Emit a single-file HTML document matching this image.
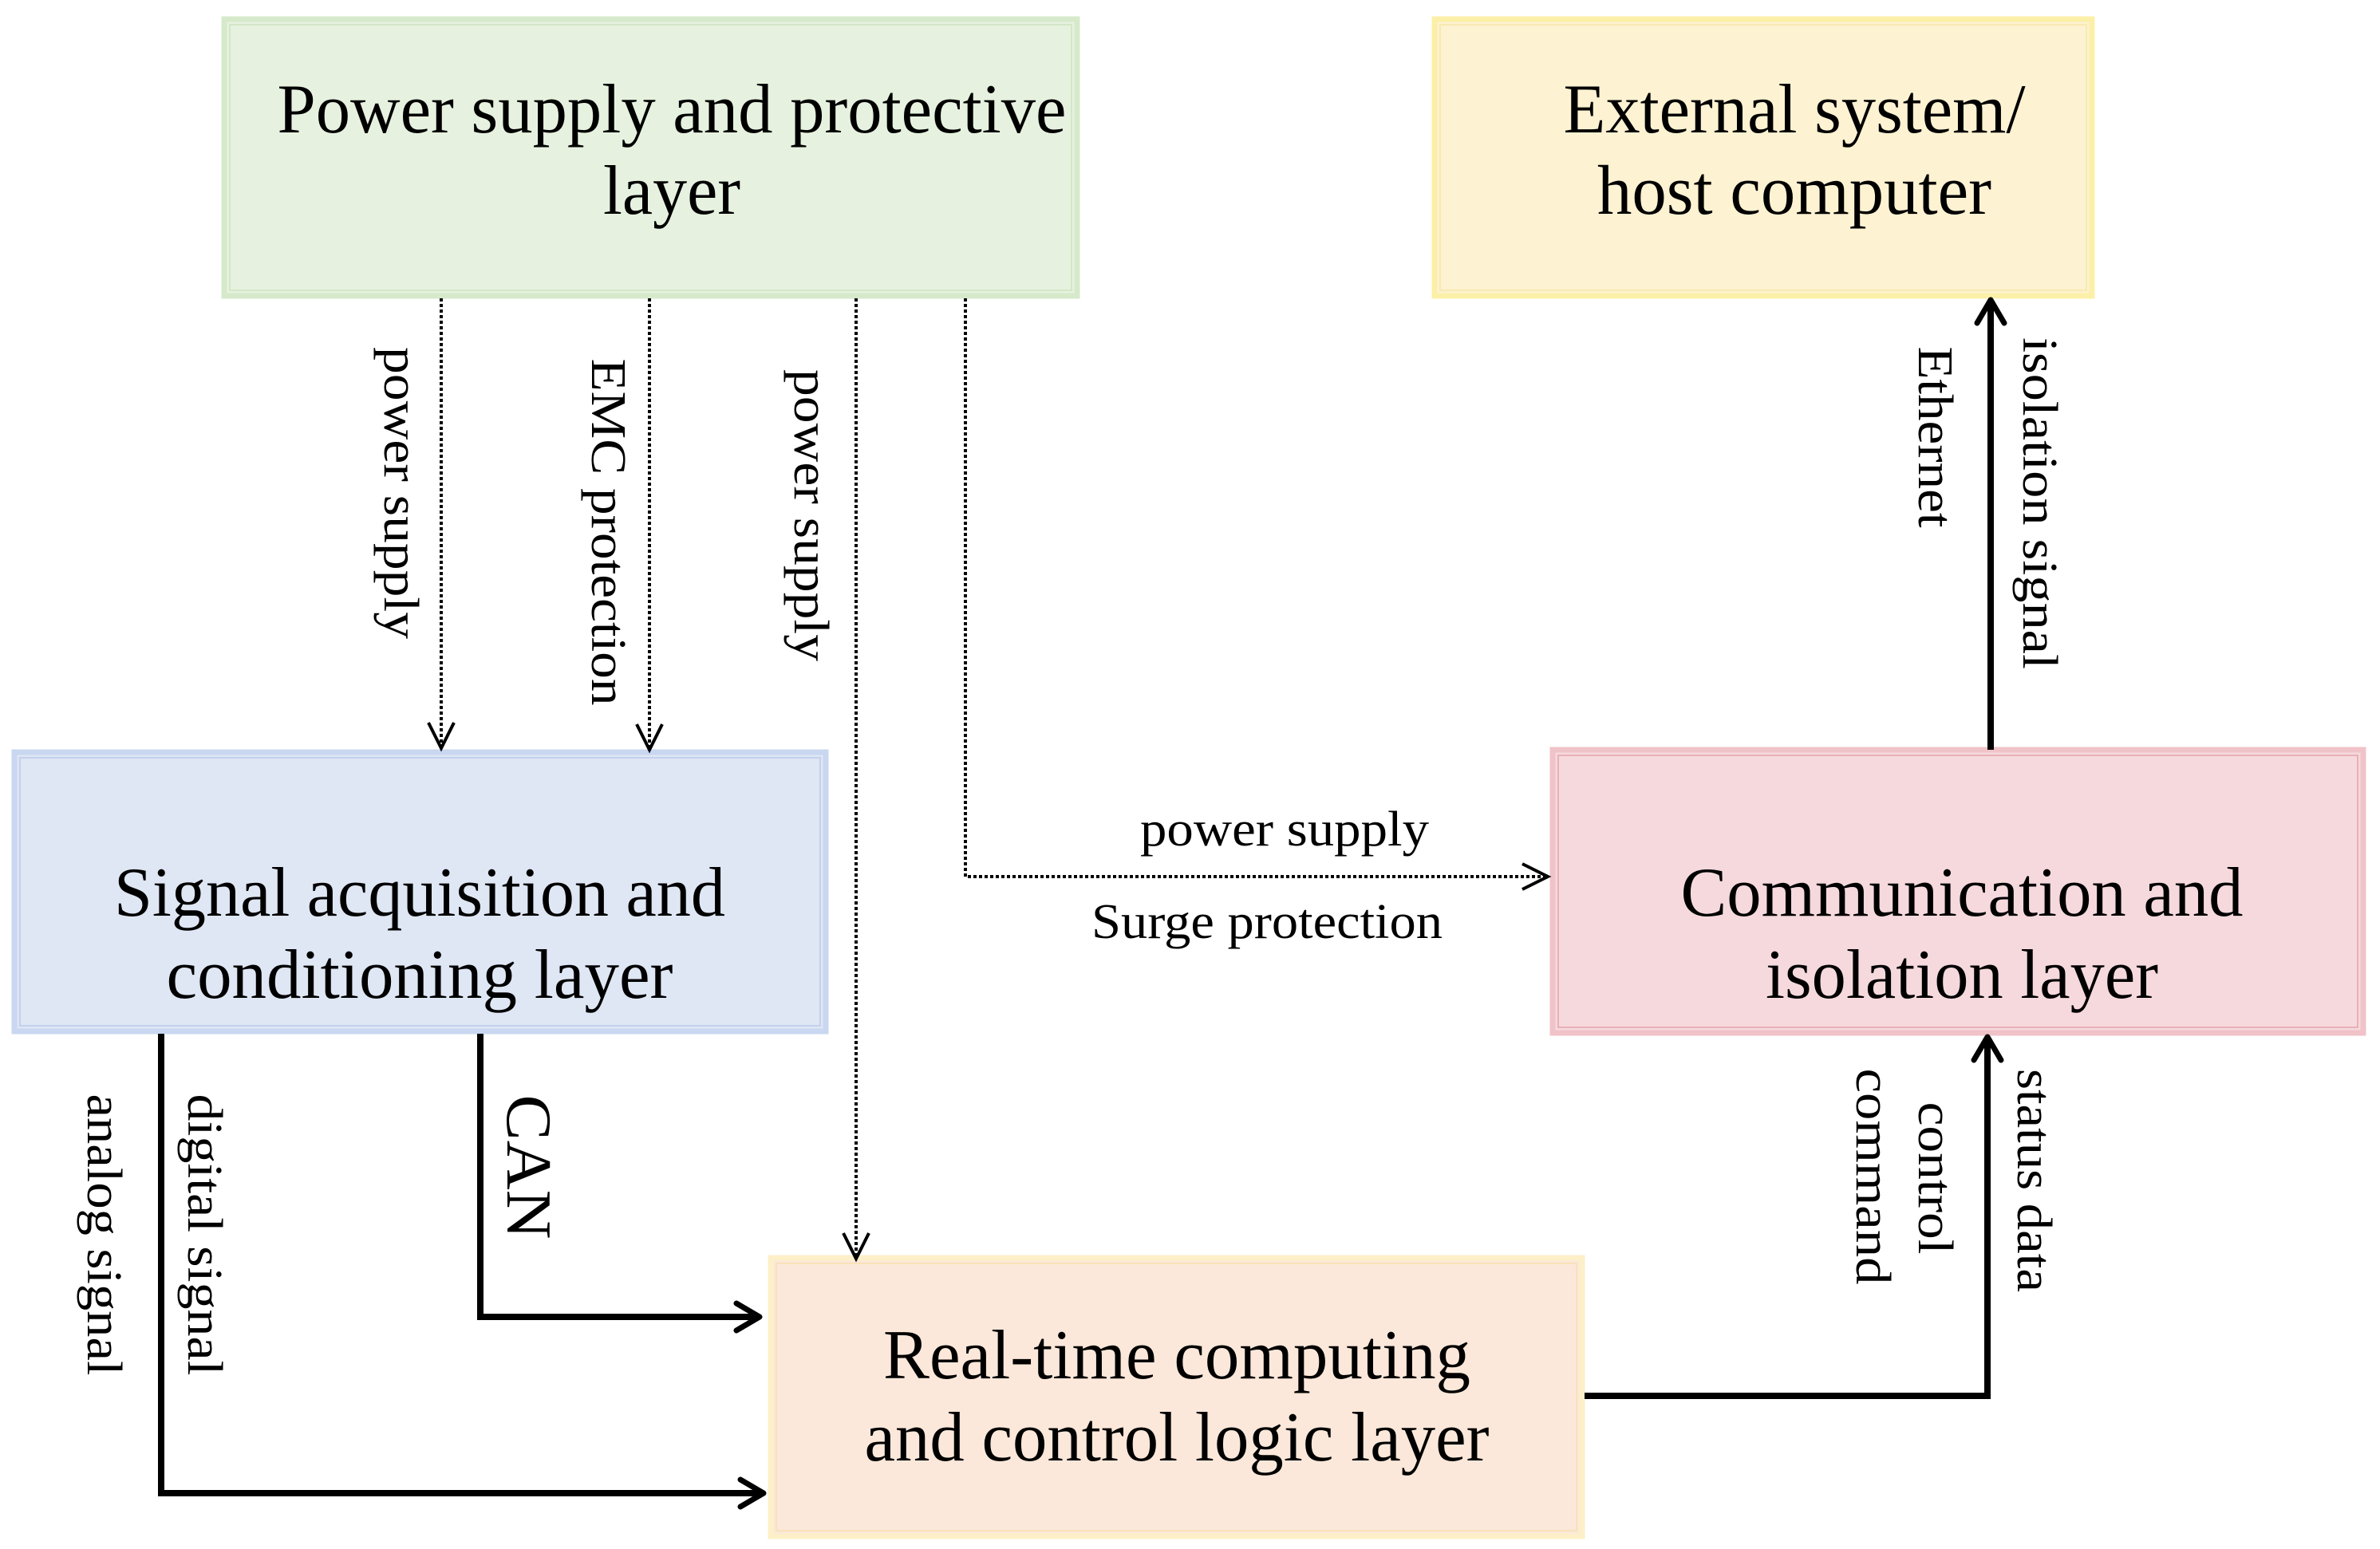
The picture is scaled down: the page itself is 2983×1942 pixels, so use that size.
<!DOCTYPE html>
<html><head><meta charset="utf-8"><style>
html,body{margin:0;padding:0;background:#fff;}
svg{display:block;}
text{font-family:"Liberation Serif",serif;fill:#000;}
</style></head><body>
<svg width="2983" height="1942" viewBox="0 0 2983 1942" xmlns="http://www.w3.org/2000/svg">
<!-- boxes -->
<rect x="281" y="24" width="1069" height="347" fill="#e6f2df" stroke="#d6eacb" stroke-width="7"/>
<rect x="288" y="31" width="1055" height="333" fill="none" stroke="#d3e7c6" stroke-width="2"/>
<rect x="1798" y="24" width="824" height="347" fill="#fdf2d2" stroke="#fcf0a8" stroke-width="7"/>
<rect x="1805" y="31" width="810" height="333" fill="none" stroke="#f8eab0" stroke-width="2"/>
<rect x="18" y="943" width="1017" height="350" fill="#dfe6f4" stroke="#c9d7f0" stroke-width="7"/>
<rect x="25" y="950" width="1003" height="336" fill="none" stroke="#c2d1ec" stroke-width="2"/>
<rect x="1946" y="940" width="1016" height="355" fill="#f5d9dd" stroke="#f0c3c8" stroke-width="7"/>
<rect x="1953" y="947" width="1002" height="341" fill="none" stroke="#e8b0b6" stroke-width="2"/>
<rect x="966" y="1577" width="1017" height="349" fill="#fbe8da" stroke="#fdf0c8" stroke-width="7"/>
<rect x="973" y="1584" width="1003" height="335" fill="none" stroke="#f9e2b8" stroke-width="2"/>

<!-- box texts -->
<g font-size="88" text-anchor="middle">
<text x="842" y="166" textLength="989" lengthAdjust="spacingAndGlyphs">Power supply and protective</text>
<text x="842" y="268" textLength="172" lengthAdjust="spacingAndGlyphs">layer</text>
<text x="2249" y="166" textLength="579" lengthAdjust="spacingAndGlyphs">External system/</text>
<text x="2249" y="268" textLength="494" lengthAdjust="spacingAndGlyphs">host computer</text>
<text x="526" y="1148" textLength="766" lengthAdjust="spacingAndGlyphs">Signal acquisition and</text>
<text x="526" y="1251" textLength="635" lengthAdjust="spacingAndGlyphs">conditioning layer</text>
<text x="2459" y="1148" textLength="705" lengthAdjust="spacingAndGlyphs">Communication and</text>
<text x="2459" y="1251" textLength="492" lengthAdjust="spacingAndGlyphs">isolation layer</text>
<text x="1475" y="1728" textLength="736" lengthAdjust="spacingAndGlyphs">Real-time computing</text>
<text x="1475" y="1831" textLength="783" lengthAdjust="spacingAndGlyphs">and control logic layer</text>
</g>

<!-- dotted connectors -->
<g fill="none" stroke="#000" stroke-width="4" stroke-dasharray="4 3">
<path d="M553 374 V936"/>
<path d="M814 374 V938"/>
<path d="M1073 374 V1576"/>
<path d="M1210 374 V1099 H1938"/>
</g>
<g fill="none" stroke="#000" stroke-width="4">
<path d="M537 906 L553 938 L569 906"/>
<path d="M798 908 L814 940 L830 908"/>
<path d="M1057 1546 L1073 1578 L1089 1546"/>
<path d="M1908 1083 L1940 1099 L1908 1115"/>
</g>

<!-- solid connectors -->
<g fill="none" stroke="#000" stroke-width="8">
<path d="M202 1296 V1872 H955"/>
<path d="M602 1296 V1651 H950"/>
<path d="M1986 1750 H2491 V1302"/>
<path d="M2495 940 V380"/>
</g>
<g fill="none" stroke="#000" stroke-width="7" stroke-linecap="round" stroke-linejoin="round">
<path d="M928 1855 L957 1872 L928 1889"/>
<path d="M923 1634 L952 1651 L923 1668"/>
<path d="M2474 1329 L2491 1300 L2508 1329"/>
<path d="M2478 405 L2495 376 L2512 405"/>
</g>

<!-- labels -->
<g font-size="62" text-anchor="middle">
<text transform="translate(482,618) rotate(90)" textLength="366" lengthAdjust="spacingAndGlyphs">power supply</text>
<text transform="translate(742,667) rotate(90)" textLength="435" lengthAdjust="spacingAndGlyphs">EMC protection</text>
<text transform="translate(996,646) rotate(90)" textLength="366" lengthAdjust="spacingAndGlyphs">power supply</text>
<text x="1610" y="1060" textLength="362" lengthAdjust="spacingAndGlyphs">power supply</text>
<text x="1588" y="1176" textLength="440" lengthAdjust="spacingAndGlyphs">Surge protection</text>
<text transform="translate(110,1548) rotate(90)" textLength="353" lengthAdjust="spacingAndGlyphs">analog signal</text>
<text transform="translate(236,1548) rotate(90)" textLength="353" lengthAdjust="spacingAndGlyphs">digital signal</text>
<text transform="translate(2529,1480) rotate(90)" textLength="280" lengthAdjust="spacingAndGlyphs">status data</text>
<text transform="translate(2405,1477) rotate(90)" textLength="191" lengthAdjust="spacingAndGlyphs">control</text>
<text transform="translate(2327,1475) rotate(90)" textLength="271" lengthAdjust="spacingAndGlyphs">command</text>
<text transform="translate(2536,631) rotate(90)" textLength="416" lengthAdjust="spacingAndGlyphs">isolation signal</text>
<text transform="translate(2405,548) rotate(90)" textLength="227" lengthAdjust="spacingAndGlyphs">Ethernet</text>
</g>
<text transform="translate(636,1463) rotate(90)" font-size="80" text-anchor="middle" textLength="181" lengthAdjust="spacingAndGlyphs">CAN</text>
</svg>
</body></html>
